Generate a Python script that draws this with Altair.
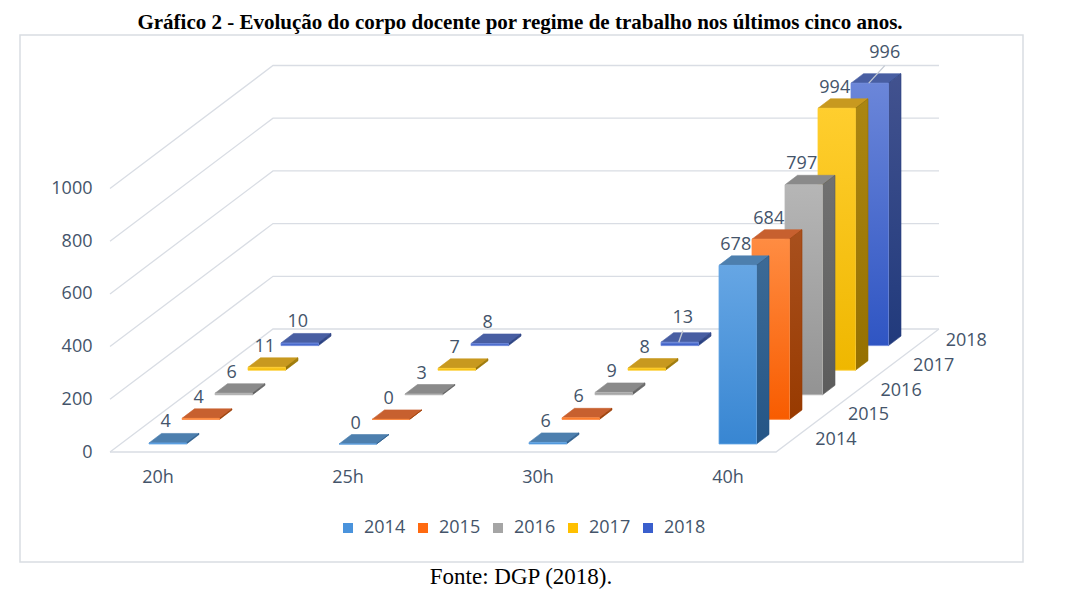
import altair as alt
import pandas as pd

# ---------------- data ----------------
categories = ["20h", "25h", "30h", "40h"]
years = ["2014", "2015", "2016", "2017", "2018"]
values_2014 = [4, 0, 6, 678]
values_2015 = [4, 0, 6, 684]
values_2016 = [6, 3, 9, 797]
values_2017 = [11, 7, 8, 994]
values_2018 = [10, 8, 13, 996]
y_ticks = [0, 200, 400, 600, 800, 1000]
title_text = "Gráfico 2 - Evolução do corpo docente por regime de trabalho nos últimos cinco anos."
source_text = "Fonte: DGP (2018)."

series = {
    "2014": values_2014,
    "2015": values_2015,
    "2016": values_2016,
    "2017": values_2017,
    "2018": values_2018,
}

# ---------------- layout / style ----------------
W, H = 1050, 581
OX, OY = 8, 8
K = 0.2635            # px per value unit on the front plane
FLOOR_PAGE_Y = 452


def vy(page_y):
    return (FLOOR_PAGE_Y - page_y) / K


def vx(page_x):
    return page_x - OX


def dv(p):
    return p / K


FLOOR_X0, FLOOR_X1 = vx(110), vx(776)
FLOOR_DX, FLOOR_DY = 163, dv(123)
BAR_X0 = vx(149)
CAT_STEP = 190
ROW_DX, ROW_DY = 33, dv(24.6)
BAR_W = 37.5
DEP_DX, DEP_DY = 12.5, dv(9.5)
BAR_BASE = dv(8)

TEXT_COLOR = "#44546a"
GRID_COLOR = "#d9dde4"
FONT = "Open Sans"

colors = {
    "2014": dict(ft="#66a6e4", fb="#3886d2", st="#3c6a96", sb="#245586", top="#4d7fae", leg="#4a93dc"),
    "2015": dict(ft="#ff8c42", fb="#f85c00", st="#a8501e", sb="#983a00", top="#c7602f", leg="#ff6a10"),
    "2016": dict(ft="#b6b6b6", fb="#939393", st="#717171", sb="#5c5c5c", top="#8a8a8a", leg="#a5a5a5"),
    "2017": dict(ft="#ffce2e", fb="#efb700", st="#ab8612", sb="#957000", top="#c8991f", leg="#ffc000"),
    "2018": dict(ft="#6b86d9", fb="#2f55c3", st="#42528f", sb="#213a7c", top="#485ea2", leg="#3a5fcd"),
}

LABEL_NUDGE = {("40h", "2018"): (17, dv(10)), ("30h", "2018"): (5, dv(4))}

# ---------------- geometry tables (derived from the value arrays) ----------------
fronts, sides, tops, labels, leaders = [], [], [], [], []
for j, yr in enumerate(years):
    for i, cat in enumerate(categories):
        v = series[yr][i]
        xl = BAR_X0 + CAT_STEP * i + ROW_DX * j
        xr = xl + BAR_W
        yb = BAR_BASE + ROW_DY * j
        yt = yb + v
        fronts.append(dict(year=yr, cat=cat, xl=xl, xr=xr, yb=yb, yt=yt))
        for o, (px_, py_) in enumerate([(xr, yb), (xr + DEP_DX, yb + DEP_DY),
                                         (xr + DEP_DX, yt + DEP_DY), (xr, yt), (xr, yb)]):
            sides.append(dict(year=yr, cat=cat, o=o, x=px_, y=py_))
        for o, (px_, py_) in enumerate([(xl, yt), (xr, yt), (xr + DEP_DX, yt + DEP_DY),
                                         (xl + DEP_DX, yt + DEP_DY), (xl, yt)]):
            tops.append(dict(year=yr, cat=cat, o=o, x=px_, y=py_))
        lx = (xl + xr) / 2 - 2
        ly = yt + DEP_DY + dv(6)
        if (cat, yr) in LABEL_NUDGE:
            ndx, ndy = LABEL_NUDGE[(cat, yr)]
            lx += ndx
            ly += ndy
            leaders.append(dict(x=(xl + xr) / 2 - 1, y=yt, x2=lx, y2=ly - dv(8)))
        labels.append(dict(year=yr, cat=cat, text=str(v), x=lx, y=ly))

df_front = pd.DataFrame(fronts)
df_side = pd.DataFrame(sides)
df_top = pd.DataFrame(tops)
df_lab = pd.DataFrame(labels)
df_lead = pd.DataFrame(leaders)

grid = []
for L in y_ticks:
    grid.append(dict(level=L, o=0, x=FLOOR_X0, y=L))
    grid.append(dict(level=L, o=1, x=FLOOR_X0 + FLOOR_DX, y=L + FLOOR_DY))
    grid.append(dict(level=L, o=2, x=FLOOR_X1 + FLOOR_DX, y=L + FLOOR_DY))
df_grid = pd.DataFrame(grid)

df_floor = pd.DataFrame([
    dict(o=0, x=FLOOR_X0, y=0),
    dict(o=1, x=FLOOR_X1, y=0),
    dict(o=2, x=FLOOR_X1 + FLOOR_DX, y=FLOOR_DY),
])

df_depth = pd.DataFrame([
    dict(text=yr, x=FLOOR_X1 + FLOOR_DX * (j + 0.5) / 5 + 23, y=FLOOR_DY * (j + 0.5) / 5)
    for j, yr in enumerate(years)
])
df_cat = pd.DataFrame([
    dict(text=c, x=BAR_X0 + CAT_STEP * i + 9, y=vy(478)) for i, c in enumerate(categories)
])
df_title = pd.DataFrame([dict(text=title_text, x=vx(520), y=vy(29))])
df_source = pd.DataFrame([dict(text=source_text, x=vx(521), y=vy(584))])
df_box = pd.DataFrame([dict(x=vx(20), x2=vx(1023), y=vy(35), y2=vy(562))])
df_leg = pd.DataFrame(dict(year=years))

# ---------------- scales ----------------
xs = alt.Scale(domain=[0, W], nice=False, zero=False)
ys = alt.Scale(domain=[vy(OY + H), vy(OY)], nice=False, zero=False)
yaxis = alt.Axis(values=y_ticks, title=None, orient="left", offset=-(vx(92)), ticks=False,
                 tickSize=0, labelPadding=0, domain=False, grid=False, labelFont=FONT,
                 labelFontSize=18, labelColor=TEXT_COLOR, format="d")


def X(f):
    return alt.X(f, type="quantitative", scale=xs, axis=None)


def Y(f):
    return alt.Y(f, type="quantitative", scale=ys, axis=yaxis)


def vgrad(c1, c2):
    return {"gradient": "linear", "x1": 0, "y1": 0, "x2": 0, "y2": 1,
            "stops": [{"offset": 0, "color": c1}, {"offset": 1, "color": c2}]}


layers = []

layers.append(alt.Chart(df_grid).mark_line(color=GRID_COLOR, strokeWidth=1.3).encode(
    x=X("x"), y=Y("y"), detail="level:N", order="o:Q"))
layers.append(alt.Chart(df_floor).mark_line(color=GRID_COLOR, strokeWidth=1.3).encode(
    x=X("x"), y=Y("y"), order="o:Q"))

for yr in reversed(years):
    c = colors[yr]
    layers.append(alt.Chart(df_top).transform_filter(alt.datum.year == yr).mark_line(
        filled=True, fill=c["top"], stroke=c["top"], strokeWidth=0.6).encode(
        x=X("x"), y=Y("y"), detail="cat:N", order="o:Q"))
    layers.append(alt.Chart(df_side).transform_filter(alt.datum.year == yr).mark_line(
        filled=True, fill=vgrad(c["st"], c["sb"]), stroke=c["sb"], strokeWidth=0.6).encode(
        x=X("x"), y=Y("y"), detail="cat:N", order="o:Q"))
    layers.append(alt.Chart(df_front).transform_filter(alt.datum.year == yr).mark_rect(
        fill=vgrad(c["ft"], c["fb"]), stroke=c["ft"], strokeWidth=0.8).encode(
        x=X("xl"), x2="xr", y=Y("yb"), y2="yt"))

layers.append(alt.Chart(df_lead).mark_rule(color="#c3c9d3", strokeWidth=1.3).encode(
    x=X("x"), y=Y("y"), x2="x2", y2="y2"))
layers.append(alt.Chart(df_lab).mark_text(font=FONT, fontSize=18, color=TEXT_COLOR,
                                          baseline="alphabetic", align="center").encode(
    x=X("x"), y=Y("y"), text="text:N"))
layers.append(alt.Chart(df_depth).mark_text(font=FONT, fontSize=18, color=TEXT_COLOR,
                                            baseline="middle", align="left").encode(
    x=X("x"), y=Y("y"), text="text:N"))
layers.append(alt.Chart(df_cat).mark_text(font=FONT, fontSize=18, color=TEXT_COLOR,
                                          baseline="middle", align="center").encode(
    x=X("x"), y=Y("y"), text="text:N"))
layers.append(alt.Chart(df_title).mark_text(font="Liberation Serif", fontSize=21, fontWeight="bold",
                                            color="#000000", baseline="alphabetic", align="center").encode(
    x=X("x"), y=Y("y"), text="text:N"))
layers.append(alt.Chart(df_source).mark_text(font="Liberation Serif", fontSize=23,
                                             color="#000000", baseline="alphabetic", align="center").encode(
    x=X("x"), y=Y("y"), text="text:N"))
layers.append(alt.Chart(df_box).mark_rect(fillOpacity=0, stroke="#d9dde2", strokeWidth=1.5).encode(
    x=X("x"), x2="x2", y=Y("y"), y2="y2"))
layers.append(alt.Chart(df_leg).mark_square(opacity=0, size=100).encode(
    x=alt.value(0), y=alt.value(0),
    color=alt.Color("year:N", scale=alt.Scale(domain=years, range=[colors[y]["leg"] for y in years]),
                    legend=alt.Legend(orient="none", legendX=vx(339), legendY=vx(519),
                                      direction="horizontal", title=None, symbolType="square",
                                      symbolSize=100, symbolOpacity=1, symbolStrokeWidth=0,
                                      labelFont=FONT, labelFontSize=18, labelColor=TEXT_COLOR,
                                      labelOffset=7, columnPadding=8, padding=0))))

chart = alt.layer(*layers).properties(
    width=W, height=H,
    autosize=alt.AutoSizeParams(type="none"),
    padding=0,
    background="white",
).configure_view(stroke=None)

chart.save("out.html", embed_options={"renderer": "svg", "actions": False})
